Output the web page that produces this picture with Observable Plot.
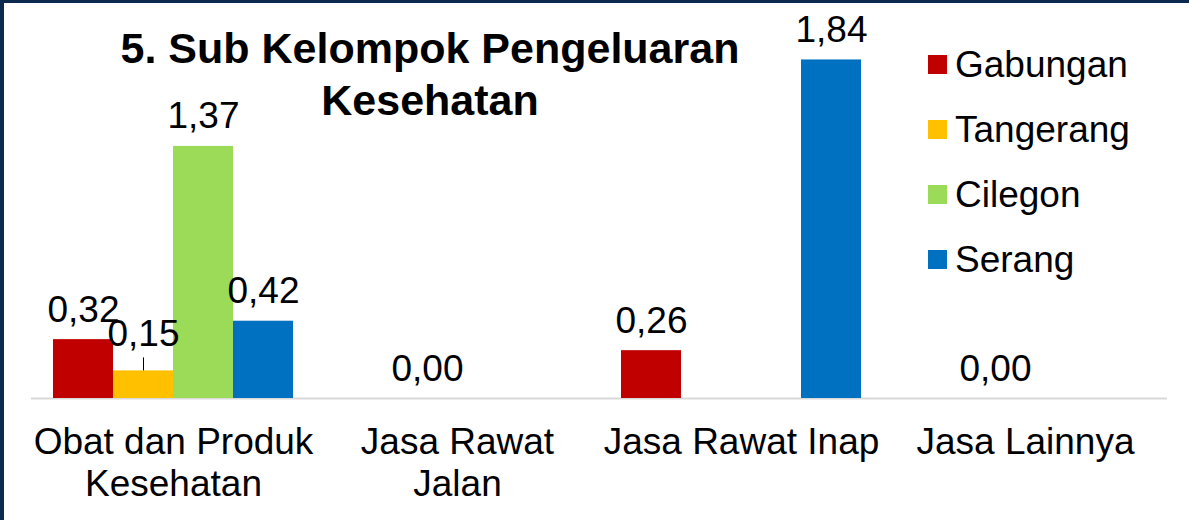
<!DOCTYPE html>
<html>
<head>
<meta charset="utf-8">
<script src="https://cdn.jsdelivr.net/npm/d3@7"></script>
<script src="https://cdn.jsdelivr.net/npm/@observablehq/plot@0.6"></script>
<style>
  html, body { margin: 0; padding: 0; background: #ffffff; }
  #wrap { position: relative; width: 1189px; height: 520px; overflow: hidden; background: #ffffff;
          font-family: "Liberation Sans", Arial, sans-serif; }
  #chart { position: absolute; left: 0; top: 0; }
  #border { position: absolute; left: 0; top: 0; width: 1189px; height: 520px; box-sizing: border-box;
            border-top: 3px solid #0c2a4f; border-left: 4px solid #0c2a4f; pointer-events: none; }
  #title { position: absolute; left: 80px; top: 22px; width: 700px; text-align: center;
           font-weight: bold; font-size: 43px; line-height: 52px; color: #000; }
  #legend { position: absolute; left: 928px; top: 32px; }
  .row { display: flex; align-items: center; height: 65px; font-size: 37px; color: #000; }
  .sw { width: 19px; height: 19px; margin-right: 8px; flex: none; }
</style>
</head>
<body>
<div id="wrap">
  <div id="chart"></div>
  <div id="title">5. Sub Kelompok Pengeluaran<br>Kesehatan</div>
  <div id="legend"></div>
  <div id="border"></div>
</div>
<script>
// ---- data ----
const categories = ["Obat dan Produk Kesehatan", "Jasa Rawat Jalan", "Jasa Rawat Inap", "Jasa Lainnya"];
const tickLabels = ["Obat dan Produk\nKesehatan", "Jasa Rawat\nJalan", "Jasa Rawat Inap", "Jasa Lainnya"];
const series = ["Gabungan", "Tangerang", "Cilegon", "Serang"];
const colors = ["#c00000", "#ffc000", "#9bdb57", "#0070c0"];
const gabungan  = [0.32, null, 0.26, null];
const tangerang = [0.15, 0.00, null, 0.00];
const cilegon   = [1.37, null, null, null];
const serang    = [0.42, null, 1.84, null];

const valuesBySeries = [gabungan, tangerang, cilegon, serang];
const rows = [];
series.forEach((s, si) => {
  categories.forEach((c, ci) => {
    const v = valuesBySeries[si][ci];
    if (v !== null) rows.push({cat: c, series: s, value: v});
  });
});
const fmt = v => d3.format(".2f")(v).replace(".", ",");
const isMoved = d => d.series === "Tangerang" && d.cat === categories[0];

const chart = Plot.plot({
  width: 1189,
  height: 520,
  marginTop: 30,
  marginBottom: 122,
  marginLeft: 31,
  marginRight: 22,
  style: {fontFamily: "'Liberation Sans', Arial, sans-serif", fontSize: "37px", color: "#000", background: "transparent"},
  fx: {domain: categories, padding: 0, axis: null, label: null},
  x: {domain: series, paddingInner: 0, paddingOuter: 22 / 60, axis: null, label: null},
  y: {domain: [0, 2], axis: null, label: null},
  color: {domain: series, range: colors},
  marks: [
    Plot.ruleY([0], {stroke: "#d9d9d9", strokeWidth: 2}),
    Plot.barY(rows, {fx: "cat", x: "series", y: "value", fill: "series"}),
    Plot.ruleX(rows.filter(isMoved), {fx: "cat", x: "series", y1: "value", y2: "value", insetTop: -13, stroke: "#000", strokeWidth: 1}),
    Plot.text(rows.filter(d => !isMoved(d)), {fx: "cat", x: "series", y: "value", text: d => fmt(d.value),
      dy: -18, lineAnchor: "bottom", fontSize: 37, fill: "#000"}),
    Plot.text(rows.filter(isMoved), {fx: "cat", x: "series", y: "value", text: d => fmt(d.value),
      dy: -25, lineAnchor: "bottom", fontSize: 37, fill: "#000"}),
    Plot.axisFx({anchor: "bottom", tickSize: 0, tickPadding: 25, fontSize: 37, lineHeight: 1.15, fill: "#000",
      label: null, tickFormat: d => tickLabels[categories.indexOf(d)]})
  ]
});
document.getElementById("chart").appendChild(chart);

const legend = document.getElementById("legend");
series.forEach((s, i) => {
  const row = document.createElement("div");
  row.className = "row";
  const sw = document.createElement("span");
  sw.className = "sw";
  sw.style.background = colors[i];
  const t = document.createElement("span");
  t.textContent = s;
  row.appendChild(sw);
  row.appendChild(t);
  legend.appendChild(row);
});
</script>
</body>
</html>
